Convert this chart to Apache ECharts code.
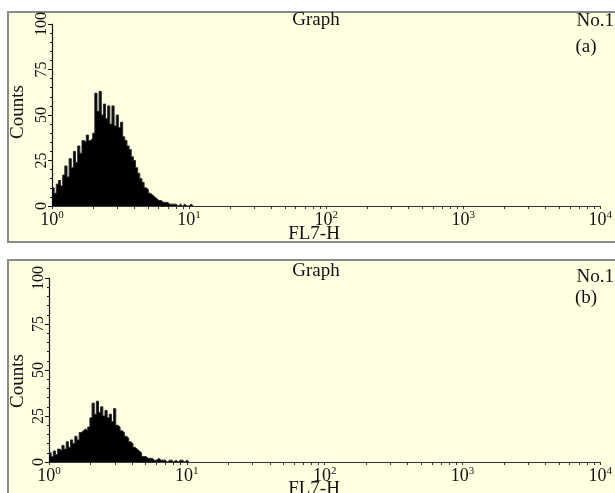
<!DOCTYPE html>
<html>
<head>
<meta charset="utf-8">
<script src="https://cdn.jsdelivr.net/npm/echarts@6/dist/echarts.min.js"></script>
<style>
  html, body { margin: 0; padding: 0; background: #ffffff; }
  #chart { width: 615px; height: 493px; }
</style>
</head>
<body>
<div id="chart"></div>
<script>
// FL7-H fluorescence histograms, log scale channels (64 channels per decade from 10^0)
const binsPerDecade = 64;
const decades = [0, 1, 2, 3, 4];
const countTicks = [0, 25, 50, 75, 100];
const panelTags = ['(a)', '(b)'];

// Counts per channel, panel (a)
const countsA = [
  10, 7, 12, 14, 11, 17, 22, 16, 26, 21,
  30, 24, 33, 29, 36, 35, 39, 36, 37, 40,
  62, 52, 63, 50, 56, 48, 55, 45, 55, 44,
  50, 43, 46, 38, 36, 33, 31, 27, 25, 21,
  18, 15, 13, 10, 9, 7, 6, 5, 4, 3,
  3, 2, 2, 2, 1, 1, 1, 1, 0, 1,
  0, 1, 0, 0, 1, 0
];

// Counts per channel, panel (b)
const countsB = [
  5, 3, 6, 4, 7, 6, 9, 7, 11, 8,
  12, 10, 14, 12, 16, 17, 18, 17, 19, 24,
  32, 26, 33, 27, 30, 25, 28, 24, 26, 22,
  29, 20, 19, 17, 16, 14, 13, 11, 10, 8,
  7, 6, 5, 3, 3, 2, 2, 2, 1, 1,
  2, 1, 1, 1, 0, 1, 1, 0, 1, 0,
  1, 1, 0, 1, 0
];

const serif = '"Liberation Serif", "Times New Roman", serif';
const panelFill = '#ffffe1';

// channel edges -> [log10 position, count] pairs for a stepped histogram
function toSteps(counts) {
  const pts = counts.map((c, i) => [i / binsPerDecade, c]);
  pts.push([counts.length / binsPerDecade, 0]);
  return pts;
}

// log-decade tick positions: 1..9 x 10^k
const logTicks = [];
for (let k = 0; k < decades.length - 1; k++) {
  for (let m = 1; m <= 9; m++) logTicks.push(k + Math.log10(m));
}
logTicks.push(decades[decades.length - 1]);

const grids = [
  { left: 52, right: 12, top: 24, bottom: 287 },
  { left: 49, right: 12, top: 278, bottom: 31 }
];

function xAxisFor(idx) {
  return {
    type: 'value', gridIndex: idx, min: 0, max: 4, interval: 1,
    axisLine: { show: true, lineStyle: { color: '#333', width: 1.2 } },
    axisTick: { show: true, length: 3, customValues: logTicks, lineStyle: { color: '#333' } },
    splitLine: { show: false },
    axisLabel: {
      margin: 4,
      customValues: decades,
      formatter: v => '{b|10}{s|' + Math.round(v) + '}',
      rich: {
        b: { fontFamily: serif, fontSize: 18, color: '#111', lineHeight: 20 },
        s: { fontFamily: serif, fontSize: 11, color: '#111', verticalAlign: 'top', lineHeight: 11 }
      }
    }
  };
}

function yAxisFor(idx) {
  return {
    type: 'value', gridIndex: idx, min: 0, max: 100, interval: 25,
    axisLine: { show: true, lineStyle: { color: '#111', width: 1.2 } },
    axisTick: { show: true, length: 4, lineStyle: { color: '#111' } },
    minorTick: { show: true, splitNumber: 5, length: 2, lineStyle: { color: '#111' } },
    splitLine: { show: false },
    axisLabel: {
      rotate: 90, margin: 2,
      fontFamily: serif, fontSize: 16, color: '#111'
    }
  };
}

function histSeries(idx, counts) {
  return {
    type: 'line', xAxisIndex: idx, yAxisIndex: idx,
    step: 'end', symbol: 'none', animation: false,
    data: toSteps(counts),
    lineStyle: { color: '#2a2a2a', width: 1 },
    areaStyle: { color: '#000', opacity: 1 }
  };
}

function text(str, x, y, opts) {
  return Object.assign({
    type: 'text', x: x, y: y, z: 100,
    style: Object.assign({
      text: str, font: '19px ' + serif, fill: '#111',
      align: 'center', verticalAlign: 'middle'
    }, opts || {})
  });
}

const chart = echarts.init(document.getElementById('chart'), null, { renderer: 'canvas' });

const graphics = [
  { type: 'rect', z: -10, shape: { x: 8, y: 12, width: 640, height: 230 },
    style: { fill: panelFill, stroke: '#8a8a8a', lineWidth: 2 } },
  { type: 'rect', z: -10, shape: { x: 8, y: 260, width: 640, height: 260 },
    style: { fill: panelFill, stroke: '#8a8a8a', lineWidth: 2 } },
  text('Graph', 316, 20),
  text('No.1', 614, 21, { align: 'right' }),
  text(panelTags[0], 586, 47),
  text('FL7-H', 314, 234),
  Object.assign(text('Counts', 18, 112), { rotation: Math.PI / 2 }),
  text('Graph', 316, 271),
  text('No.1', 614, 277, { align: 'right' }),
  text(panelTags[1], 586, 298),
  text('FL7-H', 314, 489),
  Object.assign(text('Counts', 18, 381), { rotation: Math.PI / 2 })
];

chart.setOption({
  animation: false,
  backgroundColor: '#ffffff',
  grid: grids,
  xAxis: [xAxisFor(0), xAxisFor(1)],
  yAxis: [yAxisFor(0), yAxisFor(1)],
  series: [histSeries(0, countsA), histSeries(1, countsB)],
  graphic: graphics
});
</script>
</body>
</html>
